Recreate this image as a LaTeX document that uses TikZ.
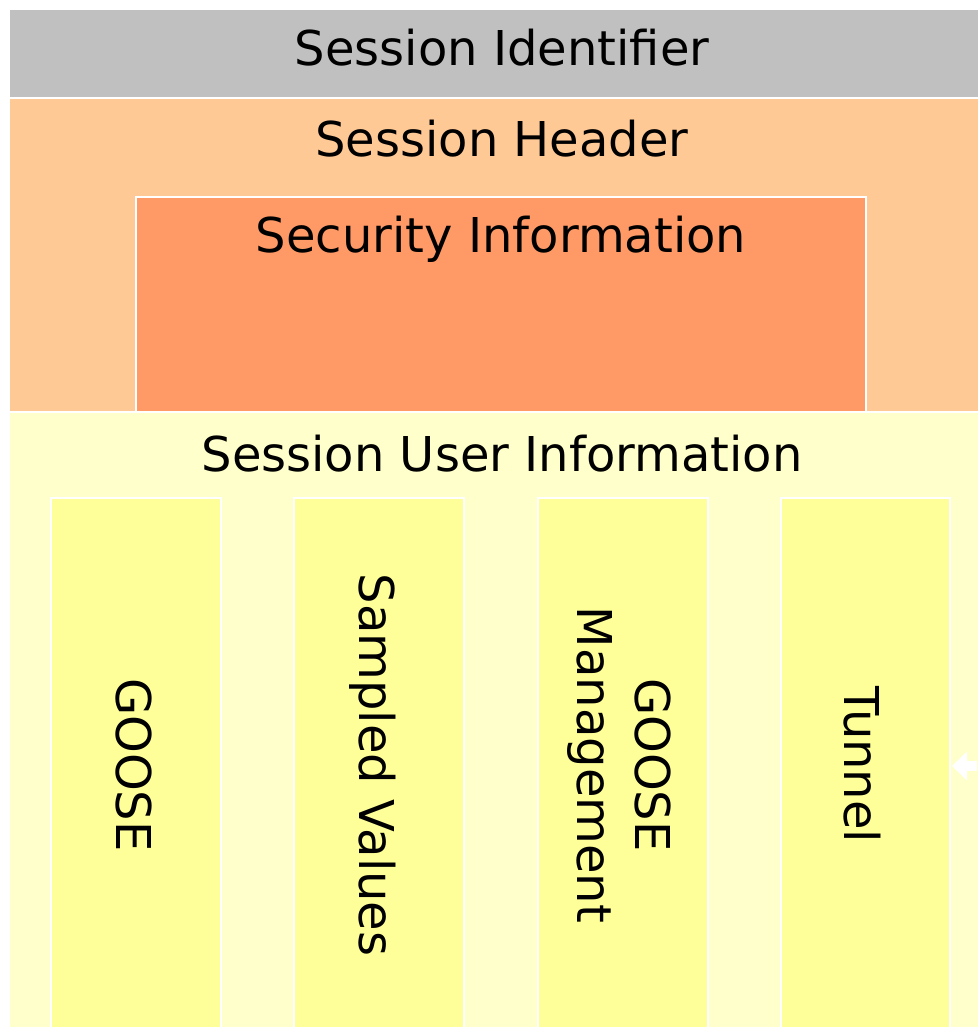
\documentclass[tikz,border=0pt]{standalone}
\usepackage{fontspec}
\setmainfont{DejaVu Sans}
\usetikzlibrary{arrows.meta}
\definecolor{grayid}{HTML}{C0C0C0}
\definecolor{hdr}{HTML}{FFC996}
\definecolor{sec}{HTML}{FF9966}
\definecolor{usr}{HTML}{FFFFCC}
\definecolor{col}{HTML}{FFFF99}
\begin{document}
\begin{tikzpicture}[x=1pt,y=-1pt,
  box/.style={draw=white,line width=2pt},
  lbl/.style={font=\fontsize{48}{58}\selectfont,text=black,inner sep=0pt},
  coltext/.style={lbl,rotate=-90,align=center}]
\useasboundingbox (0,0) rectangle (977,1027);
\fill[white] (0,0) rectangle (977,1027);
% layers
\draw[box,fill=grayid] (9,9) rectangle (979,98);
\draw[box,fill=hdr] (9,98) rectangle (979,412);
\draw[box,fill=sec] (136,197) rectangle (866,412);
\draw[box,fill=usr] (9,412) rectangle (979,1030);
% columns
\draw[box,fill=col] (51,498) rectangle (221,1030);
\draw[box,fill=col] (294,498) rectangle (464,1030);
\draw[box,fill=col] (538,498) rectangle (708,1030);
\draw[box,fill=col] (781,498) rectangle (950,1030);
% labels
\node[lbl] (sid) at (502,48) {Session Identifier};
\node[lbl] (shd) at (502,139) {Session Header};
\node[lbl] (sec) at (501,239) {Security Information};
\node[lbl] (sui) at (502,454) {Session User Information};
\node[coltext] (goose) at (134,765) {GOOSE};
\node[coltext] (sv) at (373,765) {Sampled Values};
\node[coltext] (gm) at (619,765) {GOOSE\\Management};
\node[coltext] (tun) at (862,765) {Tunnel};
% arrow
\coordinate (astart) at (977,766);
\coordinate (aend) at (952,766);
\draw[white,line width=10pt,-{Triangle[length=15pt,width=28pt]}] (astart) -- (aend);
\end{tikzpicture}
\end{document}
